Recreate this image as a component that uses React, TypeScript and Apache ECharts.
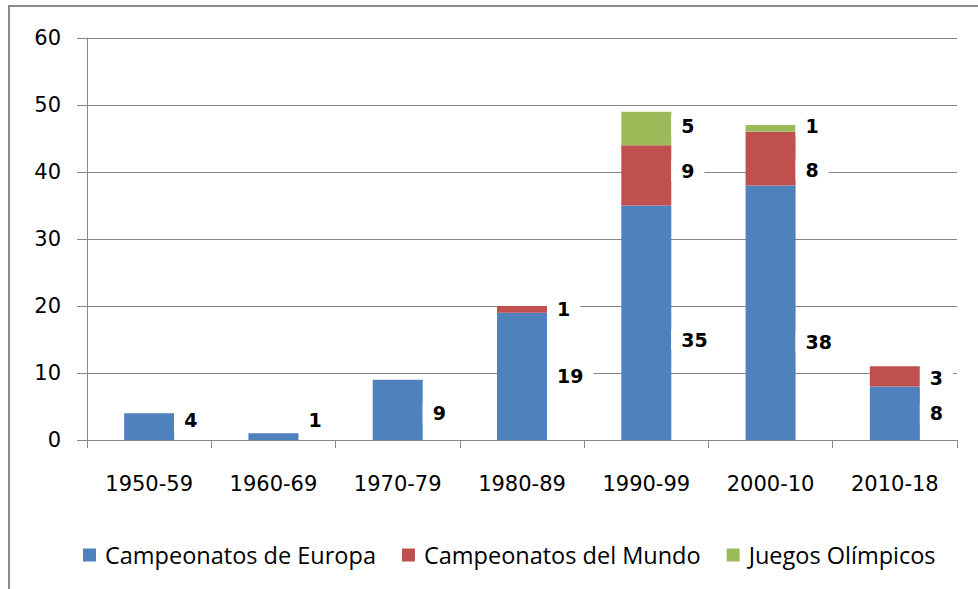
import React, { useEffect, useRef } from "react";
import * as echarts from "echarts";

const categories = ["1950-59", "1960-69", "1970-79", "1980-89", "1990-99", "2000-10", "2010-18"];
const europa = [4, 1, 9, 19, 35, 38, 8];
const mundo = [0, 0, 0, 1, 9, 8, 3];
const olimpicos = [0, 0, 0, 0, 5, 1, 0];
const seriesNames = ["Campeonatos de Europa", "Campeonatos del Mundo", "Juegos Olímpicos"];
const colors = ["#4F81BD", "#C0504D", "#9BBB59"];

// vertical nudges of the data labels (pixels), as placed in the original
const europaLabelDy = [-7, -17, 3, 0, 17, 29, 0];
const mundoLabelDy = [0, 0, 0, 0, -4, 11, 2];
const olimpicosLabelDy = [0, 0, 0, 0, -2, -2, 0];

export default function App() {
  const ref = useRef<HTMLDivElement>(null);
  useEffect(() => {
    const chart = echarts.init(ref.current!, null, { renderer: "svg" });
    const label = {
      show: true,
      position: "right",
      distance: 0,
      padding: [1, 10, 1, 10],
      backgroundColor: "#ffffff",
      color: "#000",
      fontFamily: "DejaVu Sans",
      fontWeight: "bold",
      fontSize: 19,
      formatter: (p: any) => (p.value ? String(p.value) : ""),
    };
    const mk = (name: string, vals: number[], dys: number[], color: string) => ({
      name,
      type: "bar",
      stack: "total",
      barWidth: 50,
      data: vals.map((v, i) =>
        v ? { value: v, label: { offset: [0, dys[i]] } } : null
      ),
      itemStyle: { color },
      label,
    });
    chart.setOption({
      animation: false,
      backgroundColor: "#fff",
      graphic: [
        {
          type: "rect",
          shape: { x: 9, y: 6, width: 1000, height: 700 },
          style: { fill: "none", stroke: "#8a8a8a", lineWidth: 2 },
          silent: true,
        },
      ],
      grid: { left: 87, right: 21, top: 38, bottom: 149 },
      legend: {
        top: 538,
        left: 78,
        itemWidth: 13,
        itemHeight: 13,
        itemGap: 26,
        icon: "rect",
        textStyle: {
          fontFamily: "Open Sans",
          fontSize: 23.5,
          color: "#000",
          padding: [0, 0, 0, 4],
        },
        data: seriesNames,
      },
      xAxis: {
        type: "category",
        data: categories,
        axisLine: { lineStyle: { color: "#868686", width: 1 } },
        axisTick: { show: true, length: 8, lineStyle: { color: "#868686" } },
        axisLabel: { fontFamily: "DejaVu Sans", fontSize: 21, color: "#000", margin: 33 },
      },
      yAxis: {
        type: "value",
        min: 0,
        max: 60,
        interval: 10,
        axisLine: { show: true, lineStyle: { color: "#868686" } },
        axisTick: { show: true, length: 10, lineStyle: { color: "#868686" } },
        splitLine: { lineStyle: { color: "#868686", width: 1 } },
        axisLabel: { fontFamily: "DejaVu Sans", fontSize: 21, color: "#000", margin: 26 },
      },
      series: [
        mk(seriesNames[0], europa, europaLabelDy, colors[0]),
        mk(seriesNames[1], mundo, mundoLabelDy, colors[1]),
        mk(seriesNames[2], olimpicos, olimpicosLabelDy, colors[2]),
      ],
    });
    return () => chart.dispose();
  }, []);
  return (
    <div
      ref={ref}
      style={{ position: "fixed", left: 0, top: 0, width: 978, height: 589 }}
    />
  );
}
